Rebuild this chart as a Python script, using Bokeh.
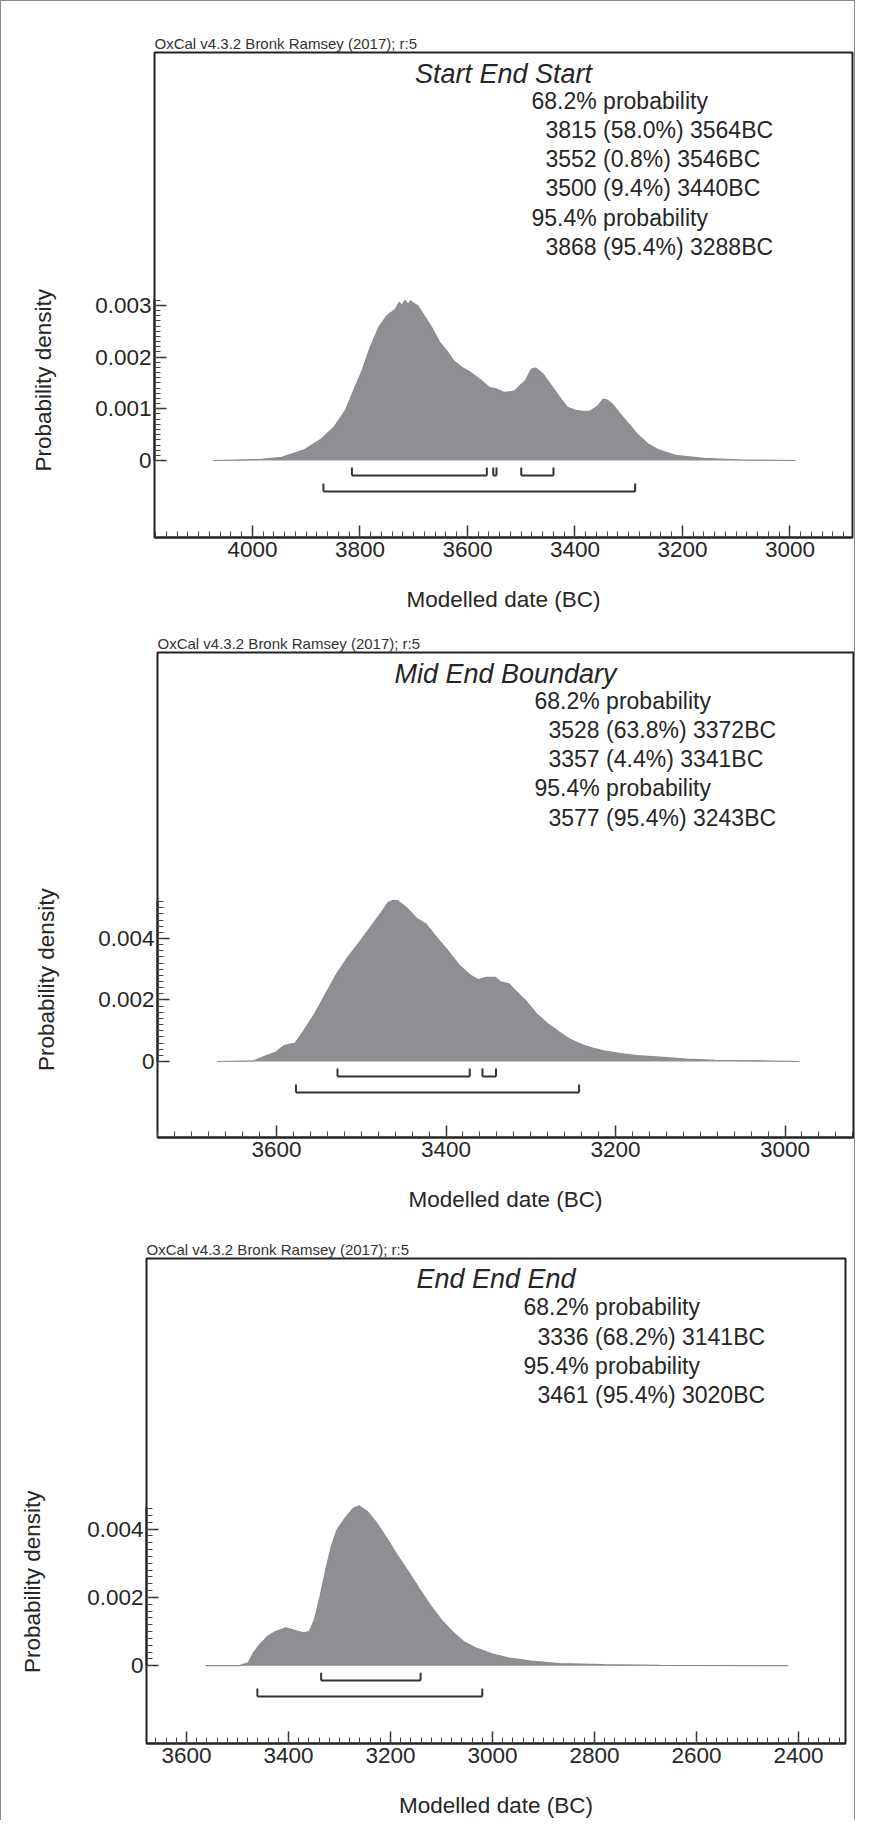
import math
from bokeh.plotting import figure
from bokeh.layouts import column, row
from bokeh.models import Range1d, SingleIntervalTicker, CustomJSTickFormatter
from bokeh.core.properties import value
from bokeh.embed import file_html
from bokeh.resources import INLINE

FONT = "Liberation Sans"
TXT = "#262626"
FILL = "#8e8f93"

# ---------------- data ----------------
# Panel 1: Start End Start
p1_title = "Start End Start"
p1_years = [4073, 3988, 3946, 3905, 3874, 3848, 3827, 3812, 3796, 3781, 3765, 3750, 3740, 3734,
            3727, 3722, 3716, 3711, 3706, 3700, 3693, 3683, 3667, 3652, 3636, 3626, 3610, 3595,
            3574, 3559, 3548, 3533, 3520, 3512, 3502, 3492, 3481, 3473, 3460, 3444, 3429, 3414,
            3399, 3385, 3373, 3357, 3347, 3340, 3331, 3316, 3300, 3285, 3264, 3243, 3213, 3161,
            3088, 2990]
p1_dens = [0.0, 0.00002, 0.00006, 0.0002, 0.0004, 0.00065, 0.00097, 0.00135, 0.00174, 0.00219,
           0.00258, 0.0028, 0.00288, 0.00293, 0.00306, 0.00300, 0.00310, 0.00302, 0.00309,
           0.00304, 0.00300, 0.00284, 0.00258, 0.00229, 0.00209, 0.00193, 0.0018, 0.00171,
           0.00155, 0.00141, 0.00139, 0.00132, 0.00133, 0.00135, 0.00145, 0.00155, 0.00177,
           0.00179, 0.00168, 0.00145, 0.00123, 0.00103, 0.00097, 0.00095, 0.00095, 0.00106,
           0.00119, 0.00117, 0.0011, 0.0009, 0.00071, 0.00052, 0.00032, 0.0002, 0.0001, 0.00004,
           0.00001, 0.0]
p1_68_from = [3815, 3552, 3500]
p1_68_pct = ["58.0", "0.8", "9.4"]
p1_68_to = [3564, 3546, 3440]
p1_95_from = [3868]
p1_95_pct = ["95.4"]
p1_95_to = [3288]

# Panel 2: Mid End Boundary
p2_title = "Mid End Boundary"
p2_years = [3670, 3627, 3611, 3601, 3591, 3578, 3568, 3555, 3542, 3529, 3516, 3502, 3489, 3476,
            3468, 3462, 3457, 3447, 3434, 3424, 3411, 3398, 3384, 3371, 3362, 3352, 3342, 3335,
            3326, 3316, 3306, 3293, 3280, 3266, 3253, 3240, 3227, 3214, 3194, 3175, 3148, 3116,
            3083, 3030, 2983]
p2_dens = [0.0, 0.00002, 0.0002, 0.0003, 0.00052, 0.0006, 0.001, 0.00155, 0.0022, 0.00285,
           0.00339, 0.00388, 0.00437, 0.00486, 0.00518, 0.00524, 0.00523, 0.00502, 0.00464,
           0.00448, 0.00404, 0.00361, 0.00312, 0.0028, 0.00266, 0.00274, 0.00274, 0.00258,
           0.00253, 0.00225, 0.00198, 0.00155, 0.00123, 0.00095, 0.00071, 0.00055, 0.00044,
           0.00035, 0.00026, 0.00019, 0.00014, 0.00008, 0.00004, 0.00002, 0.0]
p2_68_from = [3528, 3357]
p2_68_pct = ["63.8", "4.4"]
p2_68_to = [3372, 3341]
p2_95_from = [3577]
p2_95_pct = ["95.4"]
p2_95_to = [3243]

# Panel 3: End End End
p3_title = "End End End"
p3_years = [3563, 3496, 3479, 3469, 3457, 3441, 3425, 3405, 3387, 3371, 3359, 3349, 3338, 3327,
            3316, 3305, 3289, 3273, 3261, 3245, 3229, 3207, 3185, 3163, 3142, 3120, 3098, 3076,
            3055, 3033, 3000, 2967, 2924, 2869, 2782, 2673, 2420]
p3_dens = [0.0, 0.0, 0.00008, 0.00037, 0.00061, 0.00086, 0.001, 0.00111, 0.00103, 0.00096,
           0.001, 0.00135, 0.00203, 0.00281, 0.00349, 0.00398, 0.00432, 0.00461, 0.00468,
           0.00451, 0.00422, 0.00373, 0.0032, 0.00271, 0.00222, 0.00173, 0.0013, 0.00096,
           0.00069, 0.00052, 0.00034, 0.00022, 0.00013, 0.00006, 0.00003, 0.00001, 0.0]
p3_68_from = [3336]
p3_68_pct = ["68.2"]
p3_68_to = [3141]
p3_95_from = [3461]
p3_95_pct = ["95.4"]
p3_95_to = [3020]

HEADER = "OxCal v4.3.2 Bronk Ramsey (2017); r:5"
XLABEL = "Modelled date (BC)"
YLABEL = "Probability density"

LAB_W = 60  # width of the narrow strip that carries the y-axis title


def build(title, years, dens, f68, pc68, t68, f95, pc95, t95, geo):
    W, H = geo["fw"], geo["fh"]
    xs, xe = geo["xr"]
    ys, ye = geo["yr"]
    left = geo["left"] - LAB_W
    fig_h = geo["top"] + H + geo["bottom"]
    p = figure(width=left + W + geo["right"], height=fig_h,
               min_border_left=left, min_border_right=geo["right"],
               min_border_top=geo["top"], min_border_bottom=geo["bottom"],
               x_range=Range1d(xs, xe), y_range=Range1d(ys, ye),
               output_backend="svg", toolbar_location=None, tools="")
    p.background_fill_color = "white"
    p.border_fill_color = "white"
    p.outline_line_color = "#222222"
    p.outline_line_width = 2
    p.xgrid.visible = False
    p.ygrid.visible = False

    p.title.text = HEADER
    p.title.text_font = FONT
    p.title.text_font_size = "15px"
    p.title.text_font_style = "normal"
    p.title.text_color = "#333333"
    p.title.align = "left"
    p.title.standoff = 1
    p.title.offset = 0

    def dx(rel):
        return xs + rel / W * (xe - xs)

    def dy(rel):
        return ye - rel / H * (ye - ys)

    def hpx(px):
        return px / H * (ye - ys)

    # distribution
    p.varea(x=years, y1=[0.0] * len(years), y2=dens, fill_color=FILL)
    p.line(x=years, y=dens, line_color="#8a8b8f", line_width=1.2)

    # range brackets
    zero_rel = (ye - 0.0) / (ye - ys) * H
    for rw, (fr, to) in enumerate([(f68, t68), (f95, t95)]):
        yr = dy(zero_rel + (15 if rw == 0 else 31))
        p.segment(x0=fr, y0=[yr] * len(fr), x1=to, y1=[yr] * len(fr),
                  line_color="#333333", line_width=2)
        ends = list(fr) + list(to)
        p.segment(x0=ends, y0=[yr] * len(ends), x1=ends, y1=[yr + hpx(8)] * len(ends),
                  line_color="#333333", line_width=2)

    # title
    p.text(x=[dx(W / 2)], y=[dy(21)], text=[title], text_font=value(FONT),
           text_font_size="27px", text_font_style="italic", text_color=TXT,
           text_align="center", text_baseline="middle")

    # probability text
    lines, indent = [], []
    lines.append("68.2% probability"); indent.append(False)
    for a, c, b in zip(f68, pc68, t68):
        lines.append(f"{a} ({c}%) {b}BC"); indent.append(True)
    lines.append("95.4% probability"); indent.append(False)
    for a, c, b in zip(f95, pc95, t95):
        lines.append(f"{a} ({c}%) {b}BC"); indent.append(True)
    tx = [dx(391 if ind else 377) for ind in indent]
    ty = [dy(geo["line0"] + i * 29.3) for i in range(len(lines))]
    p.text(x=tx, y=ty, text=lines, text_font=value(FONT), text_font_size="23px",
           text_color=TXT, text_align="left", text_baseline="middle")

    # x axis
    xa = p.xaxis[0]
    xa.ticker = SingleIntervalTicker(interval=200, num_minor_ticks=10)
    xa.major_tick_in = 12
    xa.major_tick_out = 0
    xa.minor_tick_in = 6
    xa.minor_tick_out = 0
    xa.major_tick_line_color = "#333333"
    xa.major_tick_line_width = 1.5
    xa.minor_tick_line_color = "#444444"
    xa.minor_tick_line_width = 1
    xa.axis_line_color = "#222222"
    xa.axis_line_width = 2
    xa.major_label_text_font = FONT
    xa.major_label_text_font_size = "22.5px"
    xa.major_label_text_color = TXT
    xa.major_label_standoff = 4
    xa.axis_label = XLABEL
    xa.axis_label_text_font = FONT
    xa.axis_label_text_font_size = "22.5px"
    xa.axis_label_text_font_style = "normal"
    xa.axis_label_text_color = TXT
    xa.axis_label_standoff = 27

    # y axis (ticks only from 0 to the top of the distribution)
    ya = p.yaxis[0]
    ya.bounds = (0, geo["ytop"])
    ya.ticker = SingleIntervalTicker(interval=geo["yint"], num_minor_ticks=10)
    ya.formatter = CustomJSTickFormatter(
        code="return Math.abs(tick) < 1e-9 ? '0' : tick.toFixed(3);")
    ya.major_tick_in = 12
    ya.major_tick_out = 0
    ya.minor_tick_in = 6
    ya.minor_tick_out = 0
    ya.major_tick_line_color = "#333333"
    ya.major_tick_line_width = 1.5
    ya.minor_tick_line_color = "#444444"
    ya.minor_tick_line_width = 1
    ya.axis_line_color = "#222222"
    ya.axis_line_width = 2
    ya.major_label_text_font = FONT
    ya.major_label_text_font_size = "22.5px"
    ya.major_label_text_color = TXT
    ya.major_label_standoff = 3

    # narrow strip carrying the y-axis title, centred on the ticked part of the axis
    top_rel = (ye - geo["ytop"]) / (ye - ys) * H
    mid_from_top = geo["top"] + (zero_rel + top_rel) / 2 + 33 + geo["ylab_dy"]
    yl = figure(width=LAB_W, height=fig_h, x_range=Range1d(0, LAB_W), y_range=Range1d(0, fig_h),
                x_axis_location=None, y_axis_location=None,
                min_border=0, min_border_left=0, min_border_right=0, min_border_top=0,
                min_border_bottom=0, output_backend="svg", toolbar_location=None, tools="")
    yl.grid.visible = False
    yl.outline_line_color = None
    yl.background_fill_color = "white"
    yl.border_fill_color = "white"
    yl.text(x=[geo["ylab_x"]], y=[fig_h - mid_from_top], text=[YLABEL], angle=math.pi / 2,
            text_font=value(FONT), text_font_size="22.5px", text_color=TXT,
            text_align="center", text_baseline="middle")
    return row(yl, p, spacing=0)


geo1 = dict(left=153, right=2, top=51, bottom=83, fw=698, fh=485,
            xr=(4182.3, 2883.7), yr=(-0.001489, 0.007892), ytop=0.00312, yint=0.001,
            line0=48, ylab_x=42, ylab_dy=7)
geo2 = dict(left=156, right=1, top=32, bottom=83, fw=696, fh=485,
            xr=(3740.4, 2919.2), yr=(-0.002472, 0.013301), ytop=0.00522, yint=0.002,
            line0=48, ylab_x=45, ylab_dy=11)
geo3 = dict(left=145, right=9, top=38, bottom=76, fw=699, fh=486,
            xr=(3678.4, 2307.8), yr=(-0.002281, 0.01193), ytop=0.00462, yint=0.002,
            line0=49, ylab_x=31, ylab_dy=0)

r1 = build(p1_title, p1_years, p1_dens, p1_68_from, p1_68_pct, p1_68_to,
           p1_95_from, p1_95_pct, p1_95_to, geo1)
r2 = build(p2_title, p2_years, p2_dens, p2_68_from, p2_68_pct, p2_68_to,
           p2_95_from, p2_95_pct, p2_95_to, geo2)
r3 = build(p3_title, p3_years, p3_dens, p3_68_from, p3_68_pct, p3_68_to,
           p3_95_from, p3_95_pct, p3_95_to, geo3)

layout = column(r1, r2, r3, spacing=0,
                styles={"border-top": "1px solid #8a8a8a",
                        "border-left": "1px solid #8a8a8a",
                        "border-right": "1px solid #8a8a8a"})

open("out.html", "w").write(file_html(layout, INLINE))
